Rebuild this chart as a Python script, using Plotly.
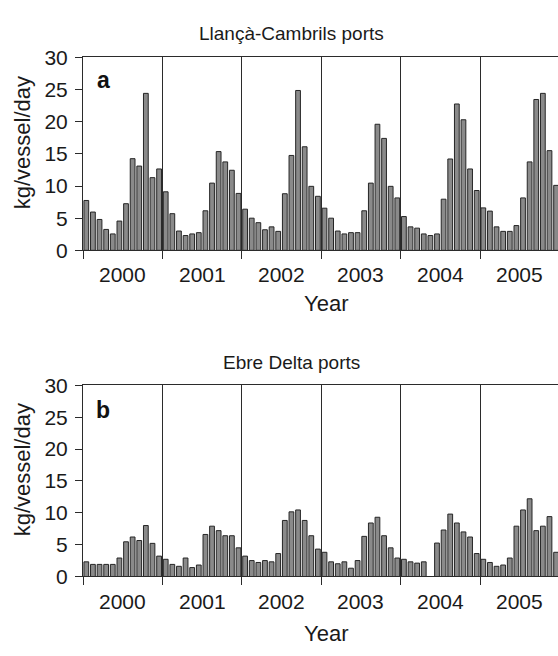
import plotly.graph_objects as go

# ---------------- data ----------------
years = ["2000", "2001", "2002", "2003", "2004", "2005"]
months_per_year = 12

# kg/vessel/day, monthly, Jan 2000 .. Dec 2005
llanca_cambrils = [
    7.75, 5.95, 4.8, 3.25, 2.55, 4.55, 7.25, 14.25, 13.1, 24.4, 11.3, 12.65,
    9.1, 5.7, 3.0, 2.3, 2.55, 2.75, 6.15, 10.45, 15.35, 13.75, 12.45, 8.85,
    6.4, 5.0, 4.3, 3.2, 3.65, 2.95, 8.8, 14.75, 24.85, 16.1, 9.95, 8.4,
    6.55, 5.0, 3.0, 2.55, 2.75, 2.75, 6.15, 10.45, 19.6, 17.4, 9.95, 8.15,
    5.25, 3.65, 3.45, 2.55, 2.3, 2.55, 7.95, 14.2, 22.75, 20.3, 12.65, 9.3,
    6.6, 6.1, 3.65, 2.95, 2.95, 3.85, 8.15, 13.75, 23.45, 24.4, 15.5, 10.1,
]
ebre_delta = [
    2.3, 1.9, 1.9, 1.9, 1.9, 2.9, 5.45, 6.2, 5.65, 8.0, 5.2, 3.2,
    2.7, 1.9, 1.6, 2.9, 1.4, 1.8, 6.6, 7.9, 7.2, 6.4, 6.4, 4.5,
    3.2, 2.5, 2.2, 2.5, 2.3, 3.6, 8.8, 10.15, 10.45, 8.8, 6.4, 4.3,
    3.8, 2.3, 2.0, 2.3, 1.3, 2.5, 6.3, 8.4, 9.3, 6.4, 4.5, 2.9,
    2.7, 2.3, 2.1, 2.3, None, 5.25, 7.3, 9.8, 8.4, 7.0, 6.2, 3.6,
    2.7, 2.2, 1.6, 1.8, 2.9, 7.9, 10.45, 12.2, 7.2, 7.9, 9.4, 3.8,
]
panel_titles = ["Llançà-Cambrils ports", "Ebre Delta ports"]
panel_letters = ["a", "b"]
y_title = "kg/vessel/day"
x_title = "Year"
y_ticks = [0, 5, 10, 15, 20, 25, 30]

# ---------------- layout helpers ----------------
W, H = 558, 656
FONT = "Liberation Sans, Arial, sans-serif"
TXT = "#1a1a1a"
LINE = "#2b2b2b"


def fx(p):
    return p / W


def fy(p):
    return 1 - p / H


month_idx = list(range(len(llanca_cambrils)))
n_years = len(years)
px_per_month = 79.4 / months_per_year
left_px = 83
x_range = [-0.5, -0.5 + (W - left_px) / px_per_month]
dividers = [-0.5 + months_per_year * i for i in range(n_years + 1)]
centers = [-0.5 + months_per_year * (i + 0.5) for i in range(n_years)]

panels = [
    dict(data=llanca_cambrils, top=47, bottom=247, title_y=22, year_y=272.5, xt_y=302, letter_y=70),
    dict(data=ebre_delta, top=387, bottom=585, title_y=363, year_y=610.5, xt_y=644, letter_y=412),
]

fig = go.Figure()
annotations = []
for k, p in enumerate(panels):
    xa = "x" if k == 0 else "x2"
    ya = "y" if k == 0 else "y2"
    fig.add_trace(go.Bar(
        x=month_idx, y=p["data"], xaxis=xa, yaxis=ya,
        marker=dict(color="#8a8a8a", line=dict(color="#262626", width=1)),
        showlegend=False, hoverinfo="skip",
    ))
    xkey = "xaxis" if k == 0 else "xaxis2"
    ykey = "yaxis" if k == 0 else "yaxis2"
    fig.update_layout(**{
        xkey: dict(
            domain=[fx(left_px), 1.0], range=x_range, anchor=ya,
            showline=True, linecolor=LINE, linewidth=1, mirror=True,
            tickmode="array", tickvals=dividers, ticktext=[""] * len(dividers),
            ticks="outside", ticklen=8, tickcolor=LINE, tickwidth=1,
            showgrid=True, gridcolor=LINE, gridwidth=1, zeroline=False,
        ),
        ykey: dict(
            domain=[fy(p["bottom"]), fy(p["top"])], range=[0, 30], anchor=xa,
            showline=True, linecolor=LINE, linewidth=1, mirror=False,
            tickmode="array", tickvals=y_ticks,
            ticks="outside", ticklen=7, tickcolor=LINE, tickwidth=1,
            ticklabelstandoff=3,
            tickfont=dict(family=FONT, size=21, color=TXT),
            showgrid=False, zeroline=False,
        ),
    })
    # year labels centred in each year block
    for c, yr in zip(centers, years):
        annotations.append(dict(
            x=c, xref=xa, y=fy(p["year_y"]), yref="paper", text=yr, showarrow=False,
            xanchor="center", yanchor="middle",
            font=dict(family=FONT, size=21, color=TXT),
        ))
    annotations.append(dict(
        x=fx(291), xref="paper", y=fy(p["title_y"]), yref="paper", text=panel_titles[k],
        showarrow=False, xanchor="center", yanchor="middle",
        font=dict(family=FONT, size=19, color=TXT),
    ))
    annotations.append(dict(
        x=fx(326), xref="paper", y=fy(p["xt_y"]), yref="paper", text=x_title,
        showarrow=False, xanchor="center", yanchor="middle",
        font=dict(family=FONT, size=22, color=TXT),
    ))
    annotations.append(dict(
        x=fx(22), xref="paper", y=fy((p["top"] + p["bottom"]) / 2 - 11), yref="paper",
        text=y_title, textangle=-90, showarrow=False, xanchor="center", yanchor="middle",
        font=dict(family=FONT, size=22, color=TXT),
    ))
    annotations.append(dict(
        x=fx(103), xref="paper", y=fy(p["letter_y"]), yref="paper",
        text="<b>" + panel_letters[k] + "</b>",
        showarrow=False, xanchor="center", yanchor="middle",
        font=dict(family=FONT, size=23, color="#111111"),
    ))

fig.update_layout(
    width=W, height=H,
    margin=dict(l=0, r=0, t=0, b=0),
    paper_bgcolor="white", plot_bgcolor="white",
    bargap=0.28,
    annotations=annotations,
    font=dict(family=FONT, color=TXT),
)

fig.write_html(
    "out.html",
    config={"displayModeBar": False},
    post_script=(
        "document.documentElement.style.margin='0';"
        "document.documentElement.style.overflow='hidden';"
        "document.body.style.margin='0';"
        "document.body.style.overflow='hidden';"
    ),
)
